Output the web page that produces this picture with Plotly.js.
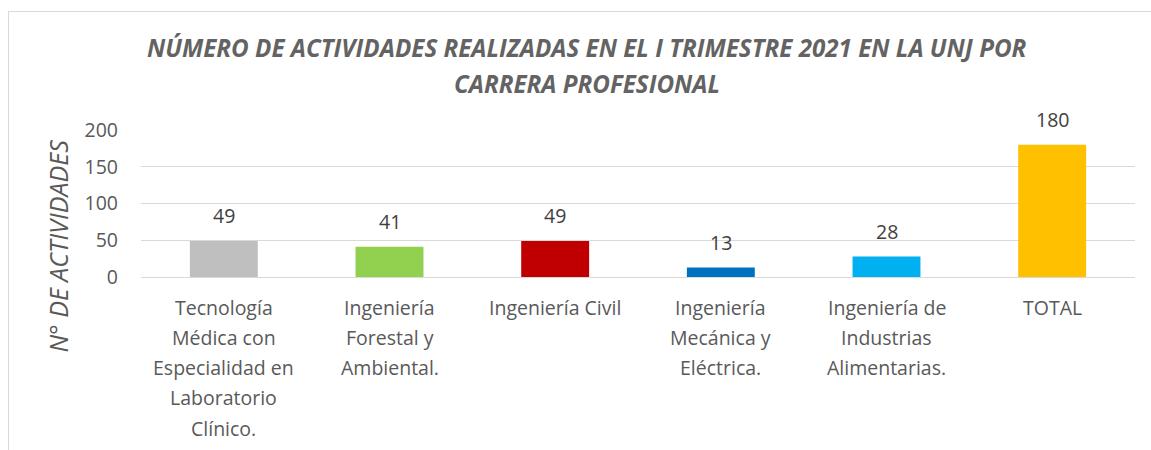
<!DOCTYPE html>
<html>
<head>
<meta charset="utf-8">
<script src="https://cdn.plot.ly/plotly-3.0.1.min.js"></script>
<style>
html,body{margin:0;padding:0;background:#fff;}
#frame{position:absolute;left:8px;top:11px;width:1143px;height:439px;border-top:1px solid #d9d9d9;border-left:1px solid #d9d9d9;box-sizing:border-box;}
#chart{position:absolute;left:0;top:0;width:1151px;height:450px;}
</style>
</head>
<body>
<div id="chart"></div>
<div id="frame"></div>
<script>
const categories = [
  "Tecnología<br>Médica con<br>Especialidad en<br>Laboratorio<br>Clínico.",
  "Ingeniería<br>Forestal y<br>Ambiental.",
  "Ingeniería Civil",
  "Ingeniería<br>Mecánica y<br>Eléctrica.",
  "Ingeniería de<br>Industrias<br>Alimentarias.",
  "TOTAL"
];
const values = [49, 41, 49, 13, 28, 180];
const barColors = ["#BFBFBF", "#92D050", "#C00000", "#0070C0", "#00B0F0", "#FFC000"];
const yTicks = [0, 50, 100, 150, 200];
const titleLines = ["NÚMERO DE ACTIVIDADES REALIZADAS EN EL I TRIMESTRE 2021 EN LA UNJ POR", "CARRERA PROFESIONAL"];
const yTitle = "N° DE ACTIVIDADES";

const FONT = "Open Sans, sans-serif";
const idx = categories.map((c, i) => i);

const annotations = [];
// title lines
titleLines.forEach((t, j) => {
  annotations.push({xref: 'paper', yref: 'paper', x: 0.4487, y: [1.5646, 1.3197][j],
    text: '<b><i>' + t + '</i></b>', showarrow: false, xanchor: 'center', yanchor: 'middle',
    font: {family: FONT, size: 24.2, color: '#636363'}});
});
// value labels
values.forEach((v, i) => {
  annotations.push({x: i, y: v, xref: 'x', yref: 'y', text: String(v), showarrow: false,
    yanchor: 'middle', yshift: 25, font: {family: FONT, size: 19.5, color: '#404040'}});
});
// category labels, one annotation per line for line spacing
categories.forEach((c, i) => {
  c.split("<br>").forEach((line, j) => {
    annotations.push({x: i, y: 0, xref: 'x', yref: 'y', text: line, showarrow: false,
      yanchor: 'middle', yshift: -(30 + j * 30.3), font: {family: FONT, size: 19.5, color: '#595959'}});
  });
});
// y axis title
annotations.push({xref: 'paper', yref: 'paper', x: -0.0835, y: 0.207, text: '<i>' + yTitle + '</i>',
  textangle: -90, showarrow: false, xanchor: 'center', yanchor: 'middle',
  font: {family: FONT, size: 25, color: '#595959'}});

const trace = {
  type: 'bar', x: idx, y: values,
  marker: {color: barColors}, hoverinfo: 'skip'
};

const layout = {
  width: 1151, height: 450,
  margin: {l: 141, r: 16, t: 130, b: 173},
  paper_bgcolor: '#fff', plot_bgcolor: '#fff',
  bargap: 0.59,
  showlegend: false,
  xaxis: {range: [-0.5, 5.5], showticklabels: false, showgrid: false, zeroline: false,
    showline: false, ticks: '', fixedrange: true},
  yaxis: {range: [0, 200], tickvals: yTicks, ticktext: yTicks.map(String),
    showgrid: true, gridcolor: '#d9d9d9', gridwidth: 1,
    zeroline: true, zerolinecolor: '#d9d9d9', zerolinewidth: 1,
    showline: false, ticks: '', ticklabelstandoff: 22,
    tickfont: {family: FONT, size: 19.5, color: '#595959'}},
  annotations: annotations
};

Plotly.newPlot('chart', [trace], layout, {displayModeBar: false, staticPlot: true});
</script>
</body>
</html>
